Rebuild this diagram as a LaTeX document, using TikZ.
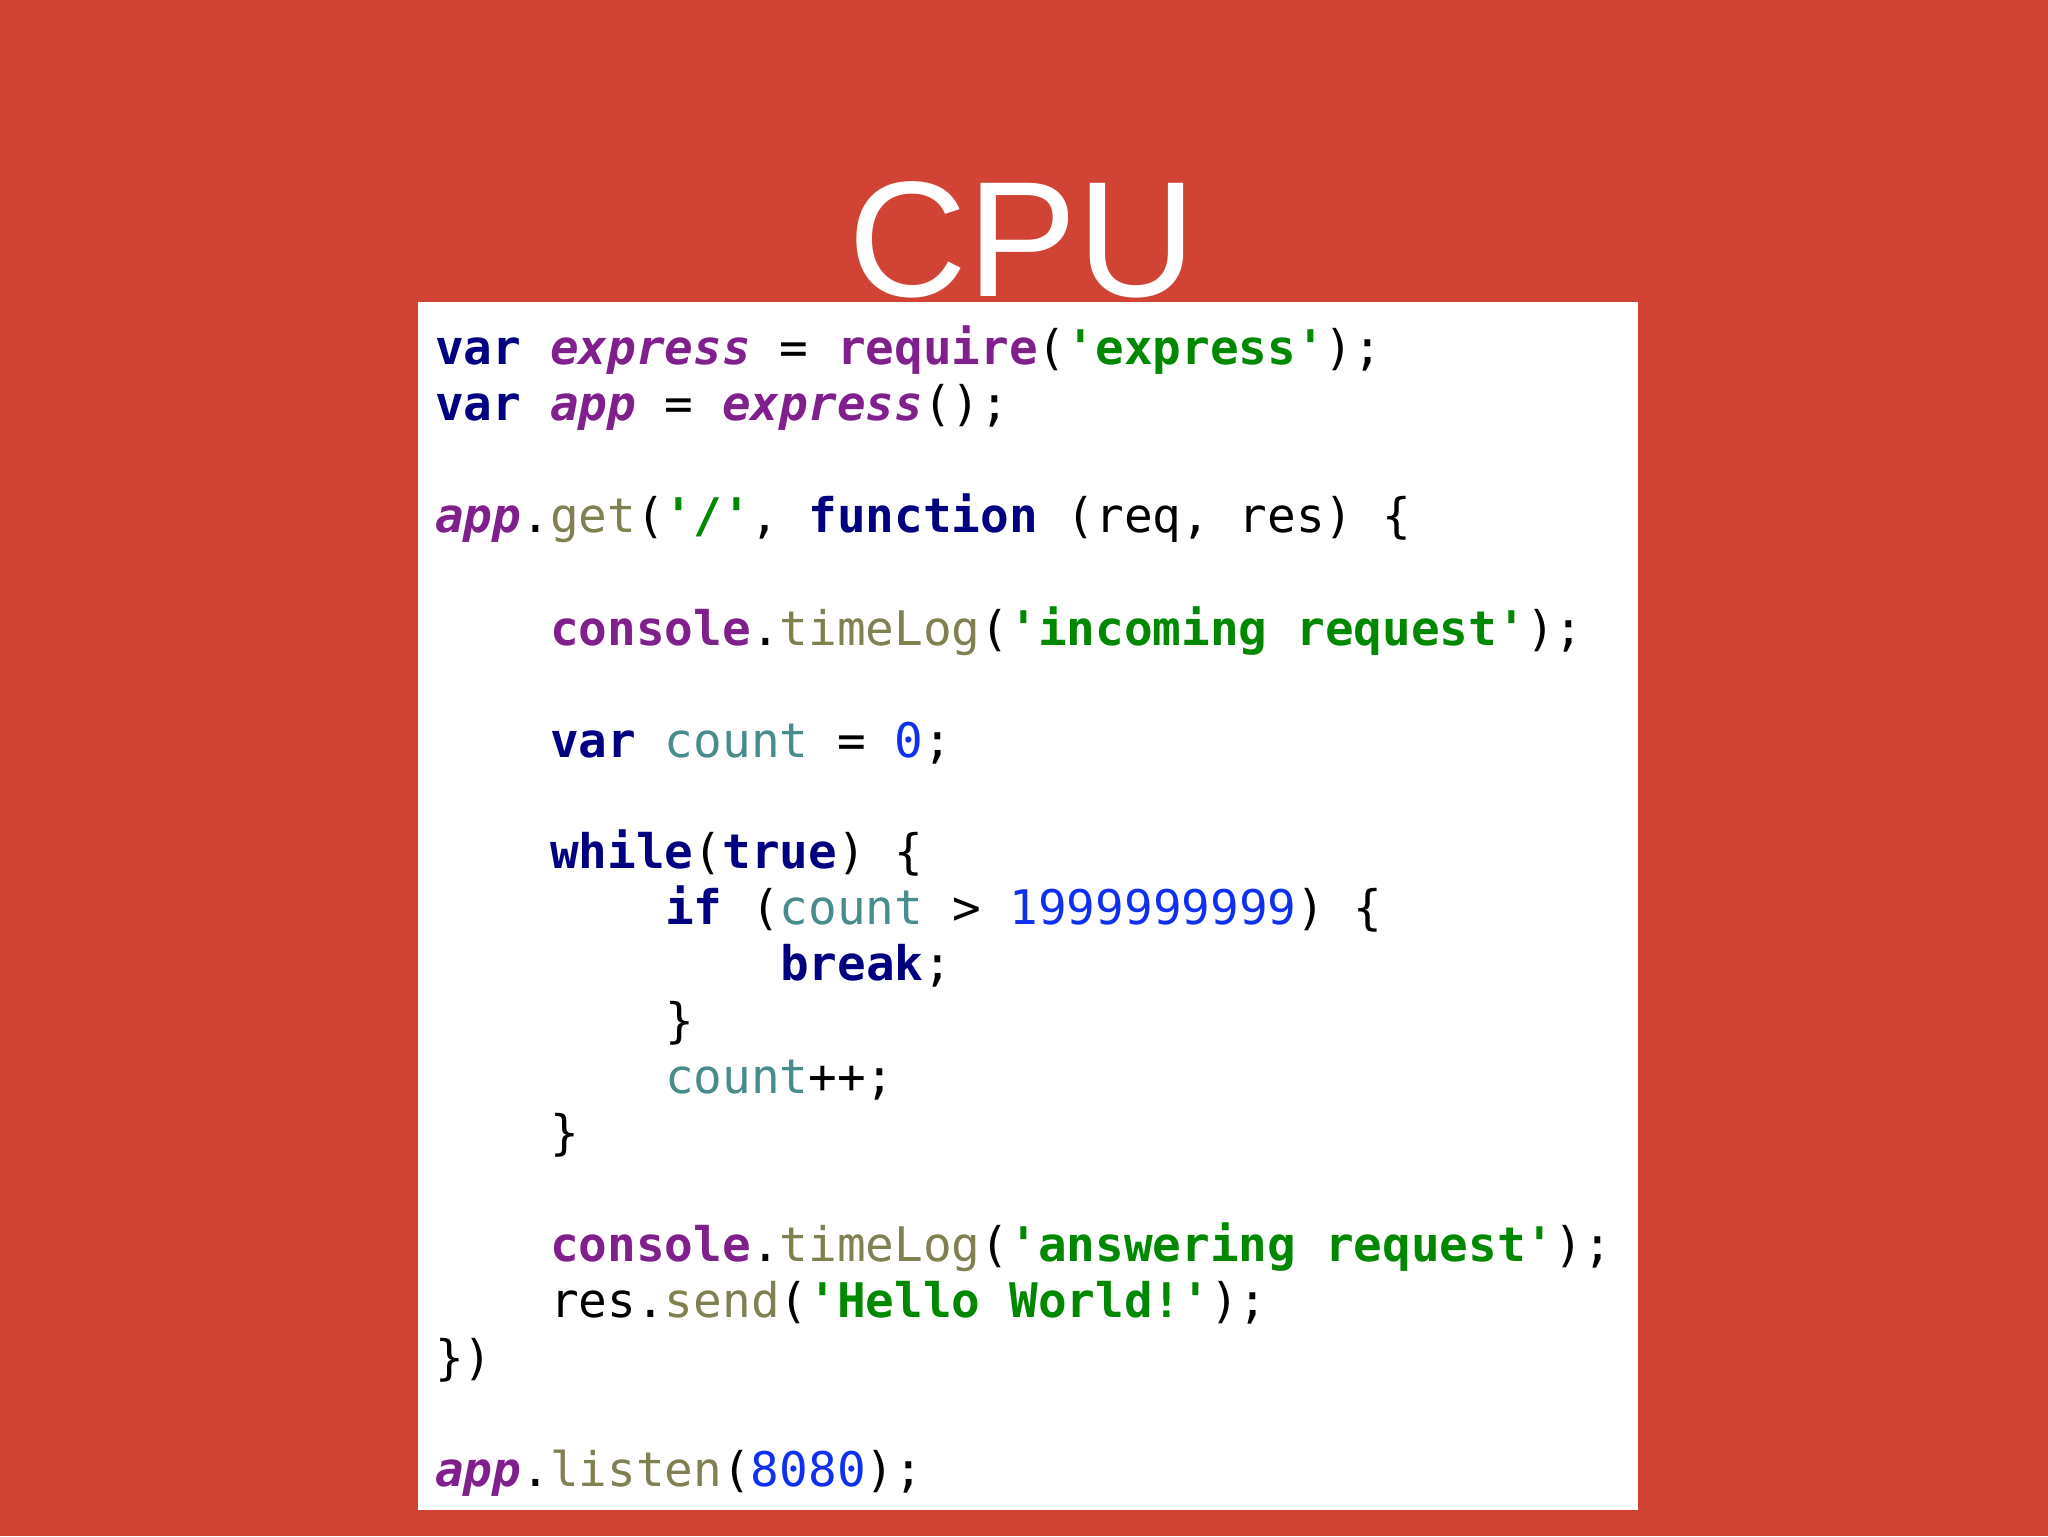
\documentclass[tikz,border=0pt]{standalone}
\usepackage{fontspec}
\setmainfont{Liberation Sans}
\setmonofont{DejaVu Sans Mono}
\definecolor{bgred}{RGB}{208,67,53}
\definecolor{ckwc}{RGB}{0,0,128}
\definecolor{cpurp}{RGB}{128,32,140}
\definecolor{cgreen}{RGB}{0,136,0}
\definecolor{colive}{RGB}{128,128,80}
\definecolor{cteal}{RGB}{72,140,140}
\definecolor{cblue}{RGB}{16,48,240}
\newcommand{\ckw}[1]{{\color{ckwc}\bfseries #1}}
\newcommand{\cid}[1]{{\color{cpurp}\bfseries\itshape #1}}
\newcommand{\cob}[1]{{\color{cpurp}\bfseries #1}}
\newcommand{\cst}[1]{{\color{cgreen}\bfseries #1}}
\newcommand{\cfn}[1]{{\color{colive}#1}}
\newcommand{\cvr}[1]{{\color{cteal}#1}}
\newcommand{\cnm}[1]{{\color{cblue}#1}}
\tikzset{codeline/.style={anchor=base west,inner sep=0pt,font=\fontsize{36.5}{43}\selectfont\ttfamily}}
\begin{document}
\begin{tikzpicture}[x=1pt,y=-1pt]
\fill[bgred] (0,0) rectangle (1568,1176);
\useasboundingbox (0,0) rectangle (1568,1176);
\fill[white] (320,231) rectangle (1254,1156);
\node[anchor=base,inner sep=0pt,text=white,font=\fontsize{126}{126}\selectfont] (title) at (783,227) {CPU};
\node[codeline] (l1) at (333,279) {\ckw{var} \cid{express} = \cob{require}(\cst{'express'});};
\node[codeline] (l2) at (333,322) {\ckw{var} \cid{app} = \cid{express}();};
\node[codeline] (l4) at (333,408) {\cid{app}.\cfn{get}(\cst{'/'}, \ckw{function} (req, res) \{};
\node[codeline] (l6) at (421,494) {\cob{console}.\cfn{timeLog}(\cst{'incoming request'});};
\node[codeline] (l8) at (421,580) {\ckw{var} \cvr{count} = \cnm{0};};
\node[codeline] (l10) at (421,665) {\ckw{while}(\ckw{true}) \{};
\node[codeline] (l11) at (509,708) {\ckw{if} (\cvr{count} > \cnm{1999999999}) \{};
\node[codeline] (l12) at (597,751) {\ckw{break};};
\node[codeline] (l13) at (509,794) {\}};
\node[codeline] (l14) at (509,837) {\cvr{count}++;};
\node[codeline] (l15) at (421,880) {\}};
\node[codeline] (l17) at (421,966) {\cob{console}.\cfn{timeLog}(\cst{'answering request'});};
\node[codeline] (l18) at (421,1009) {res.\cfn{send}(\cst{'Hello World!'});};
\node[codeline] (l19) at (333,1052) {\})};
\node[codeline] (l21) at (333,1138) {\cid{app}.\cfn{listen}(\cnm{8080});};
\end{tikzpicture}
\end{document}
